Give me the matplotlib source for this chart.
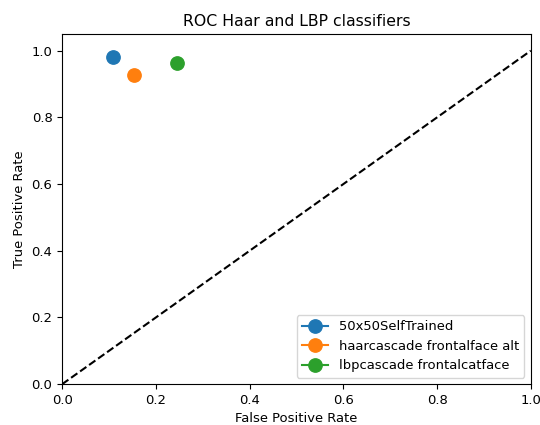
import matplotlib
matplotlib.use("Agg")
import matplotlib.pyplot as plt

plt.rcParams['font.size'] = 9.45

labels = ["50x50SelfTrained", "haarcascade frontalface alt", "lbpcascade frontalcatface"]
fpr = [0.109, 0.154, 0.246]
tpr = [0.980, 0.926, 0.963]

fig = plt.figure(figsize=(5.4, 4.25), dpi=100)
ax = fig.add_axes([0.115, 0.096, 0.868, 0.824])
for f, t, l in zip(fpr, tpr, labels):
    ax.plot([f], [t], marker='o', markersize=9.6, label=l)
ax.plot([0, 1], [0, 1], 'k--')
ax.set_xlim(0, 1.0)
ax.set_ylim(0, 1.05)
ax.set_xlabel("False Positive Rate")
ax.set_ylabel("True Positive Rate")
ax.set_title("ROC Haar and LBP classifiers")
ax.legend(loc="lower right")
fig.savefig("out.png")
